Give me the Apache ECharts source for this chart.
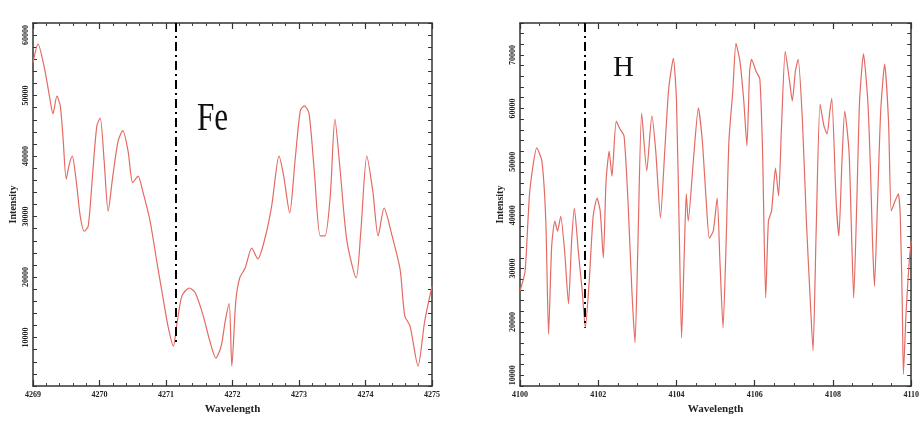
<!DOCTYPE html>
<html>
<head>
<meta charset="utf-8">
<script src="https://cdn.jsdelivr.net/npm/echarts@6.0.0/dist/echarts.min.js"></script>
<style>
html,body{margin:0;padding:0;background:#fff;}
#chart{width:922px;height:421px;}
</style>
</head>
<body>
<div id="chart"></div>
<script>
// ---- Data: Fe panel ----
var feWavelength = [4269.00,4269.075,4269.18,4269.26,4269.30,4269.36,4269.41,4269.45,4269.50,4269.54,4269.59,4269.65,4269.71,4269.77,4269.83,4269.90,4269.96,4270.01,4270.07,4270.13,4270.20,4270.28,4270.35,4270.43,4270.50,4270.58,4270.65,4270.76,4270.86,4270.95,4271.03,4271.11,4271.17,4271.24,4271.35,4271.44,4271.56,4271.66,4271.75,4271.83,4271.89,4271.95,4271.99,4272.05,4272.11,4272.19,4272.29,4272.38,4272.49,4272.59,4272.70,4272.77,4272.86,4272.94,4273.02,4273.08,4273.15,4273.23,4273.32,4273.39,4273.47,4273.54,4273.62,4273.72,4273.86,4273.93,4274.02,4274.11,4274.19,4274.28,4274.40,4274.52,4274.59,4274.67,4274.79,4274.89,4275.00];
var feIntensity = [55400,58500,54100,49100,47000,49900,48300,43300,36200,38400,40000,35900,30100,27600,28400,37500,45000,46300,39200,30900,36700,42500,44200,40800,35600,36700,34200,29300,22700,16900,11900,8600,12700,16900,18200,17400,13600,9400,6600,8600,12700,15600,5300,16100,19900,21500,24800,23000,26500,31800,40000,36700,30600,39200,47500,48300,47100,37500,26800,26800,33400,46100,37500,26000,19900,27600,40000,34200,26800,31400,26800,21300,13600,11900,5300,12700,18500];
var feTicks = [4269,4270,4271,4272,4273,4274,4275];
var feLine = 4271.15;      // Fe line marker wavelength
var feLineLow = 8900;      // marker bottom intensity

// ---- Data: H panel ----
var hWavelength = [4100.00,4100.13,4100.25,4100.43,4100.56,4100.66,4100.73,4100.81,4100.89,4100.96,4101.04,4101.14,4101.24,4101.32,4101.39,4101.49,4101.59,4101.67,4101.77,4101.87,4101.97,4102.05,4102.13,4102.20,4102.28,4102.35,4102.46,4102.56,4102.66,4102.76,4102.86,4102.94,4103.01,4103.11,4103.24,4103.37,4103.47,4103.59,4103.70,4103.80,4103.92,4104.00,4104.08,4104.13,4104.20,4104.25,4104.30,4104.43,4104.56,4104.66,4104.76,4104.84,4104.94,4105.04,4105.11,4105.19,4105.27,4105.34,4105.44,4105.52,4105.62,4105.72,4105.80,4105.87,4105.92,4106.03,4106.13,4106.20,4106.28,4106.35,4106.43,4106.53,4106.61,4106.68,4106.78,4106.89,4106.96,4107.04,4107.11,4107.22,4107.32,4107.42,4107.49,4107.57,4107.67,4107.77,4107.85,4107.92,4107.97,4108.08,4108.15,4108.23,4108.30,4108.41,4108.48,4108.53,4108.61,4108.68,4108.78,4108.89,4108.96,4109.01,4109.06,4109.14,4109.22,4109.32,4109.42,4109.49,4109.59,4109.67,4109.72,4109.77,4109.80,4109.87,4109.95,4110.00];
var hIntensity = [25800,29500,44500,52600,50100,38900,17700,34200,38900,37000,39800,33300,23400,35200,41300,33300,25800,18900,27700,39800,43200,40800,32000,46400,52000,47300,57600,56100,54800,42700,25800,16100,33300,59100,48300,58600,52000,39500,52000,63600,69400,61400,33300,17000,33300,44000,38900,50100,60100,53900,42700,35700,37000,43200,31400,18900,35200,53900,63300,72200,68900,61400,53000,67000,69200,67000,65500,52000,24500,38900,40800,48800,43600,55800,70700,65100,61400,67000,69200,57600,38900,23900,14600,37000,60800,56700,55200,59500,61900,42700,36100,50100,59500,52000,35200,24500,42700,61400,70200,61400,48300,35200,26700,42700,59500,68300,57600,40800,42700,44000,39800,23900,10200,22000,31400,35200];
var hTicks = [4100,4102,4104,4106,4108,4110];
var hLine = 4101.65;       // H-delta marker wavelength
var hLineLow = 18900;

var yLabelsLeft = [10000,20000,30000,40000,50000,60000];
var yLabelsRight = [10000,20000,30000,40000,50000,60000,70000];

function zip(a, b){ return a.map(function(v,i){ return [v, b[i]]; }); }

var serifBold = {fontFamily:'Liberation Serif', fontWeight:'bold', color:'#222'};
var axisLine = {show:true, onZero:false, lineStyle:{color:'#333', width:1.5}};

function xAx(gi, min, max, interval, split, bottom){
  return {
    gridIndex: gi, type:'value', min:min, max:max, interval:interval,
    position: bottom ? 'bottom' : 'top',
    axisLine: axisLine,
    axisTick:{show:true, inside:true, length:6, lineStyle:{color:'#333', width:1.2}},
    minorTick:{show:true, splitNumber:split, length:3, lineStyle:{color:'#444', width:1}},
    splitLine:{show:false},
    axisLabel: bottom ? Object.assign({show:true, fontSize:8, margin:5,
      formatter:function(v){ return String(Math.round(v)); }}, serifBold) : {show:false},
    name: bottom ? 'Wavelength' : '',
    nameLocation:'middle', nameGap:17,
    nameTextStyle: Object.assign({fontSize:11}, serifBold)
  };
}
function yAx(gi, min, max, labels, left){
  return {
    gridIndex: gi, type:'value', min:min, max:max, interval:2000,
    position: left ? 'left' : 'right',
    axisLine: axisLine,
    axisTick:{show:true, inside:true, length:4, lineStyle:{color:'#333', width:1}},
    splitLine:{show:false},
    axisLabel: left ? Object.assign({show:true, fontSize:8, rotate:90, margin:3, interval:0,
      formatter:function(v){ return labels.indexOf(v) >= 0 ? String(v) : ''; }}, serifBold) : {show:false},
    name: left ? 'Intensity' : '',
    nameLocation:'middle', nameGap:15,
    nameTextStyle: Object.assign({fontSize:10}, serifBold)
  };
}

var dashStyle = {color:'#000', width:2, type:[9,4,2,4]};
var curveStyle = {color:'#e46a64', width:1.2};

var option = {
  backgroundColor:'#fff',
  animation:false,
  grid:[
    {left:33, right:490, top:23, bottom:35, containLabel:false},
    {left:520, right:7, top:23, bottom:35, containLabel:false}
  ],
  xAxis:[
    xAx(0, feTicks[0], feTicks[feTicks.length-1], 1, 5, true),
    xAx(0, feTicks[0], feTicks[feTicks.length-1], 1, 5, false),
    xAx(1, hTicks[0], hTicks[hTicks.length-1], 2, 4, true),
    xAx(1, hTicks[0], hTicks[hTicks.length-1], 2, 4, false)
  ],
  yAxis:[
    yAx(0, 2000, 62000, yLabelsLeft, true),
    yAx(0, 2000, 62000, yLabelsLeft, false),
    yAx(1, 8000, 76000, yLabelsRight, true),
    yAx(1, 8000, 76000, yLabelsRight, false)
  ],
  series:[
    {
      type:'line', xAxisIndex:0, yAxisIndex:0, data: zip(feWavelength, feIntensity),
      showSymbol:false, smooth:0.25, lineStyle:curveStyle, z:3,
      markLine:{silent:true, symbol:'none', label:{show:false}, lineStyle:dashStyle,
        data:[[{coord:[feLine, 62000]},{coord:[feLine, feLineLow]}]]}
    },
    {
      type:'line', xAxisIndex:2, yAxisIndex:2, data: zip(hWavelength, hIntensity),
      showSymbol:false, smooth:0.2, lineStyle:curveStyle, z:3,
      markLine:{silent:true, symbol:'none', label:{show:false}, lineStyle:dashStyle,
        data:[[{coord:[hLine, 76000]},{coord:[hLine, hLineLow]}]]}
    }
  ],
  graphic:[
    {type:'text', x:197, y:100, scaleX:0.8, z:10,
      style:{text:'Fe', fill:'#111', font:'39px "Liberation Serif"', align:'left', verticalAlign:'top'}},
    {type:'text', x:613, y:54, z:10,
      style:{text:'H', fill:'#111', font:'29px "Liberation Serif"', align:'left', verticalAlign:'top'}}
  ]
};

var chart = echarts.init(document.getElementById('chart'), null, {renderer:'canvas'});
chart.setOption(option);
</script>
</body>
</html>
